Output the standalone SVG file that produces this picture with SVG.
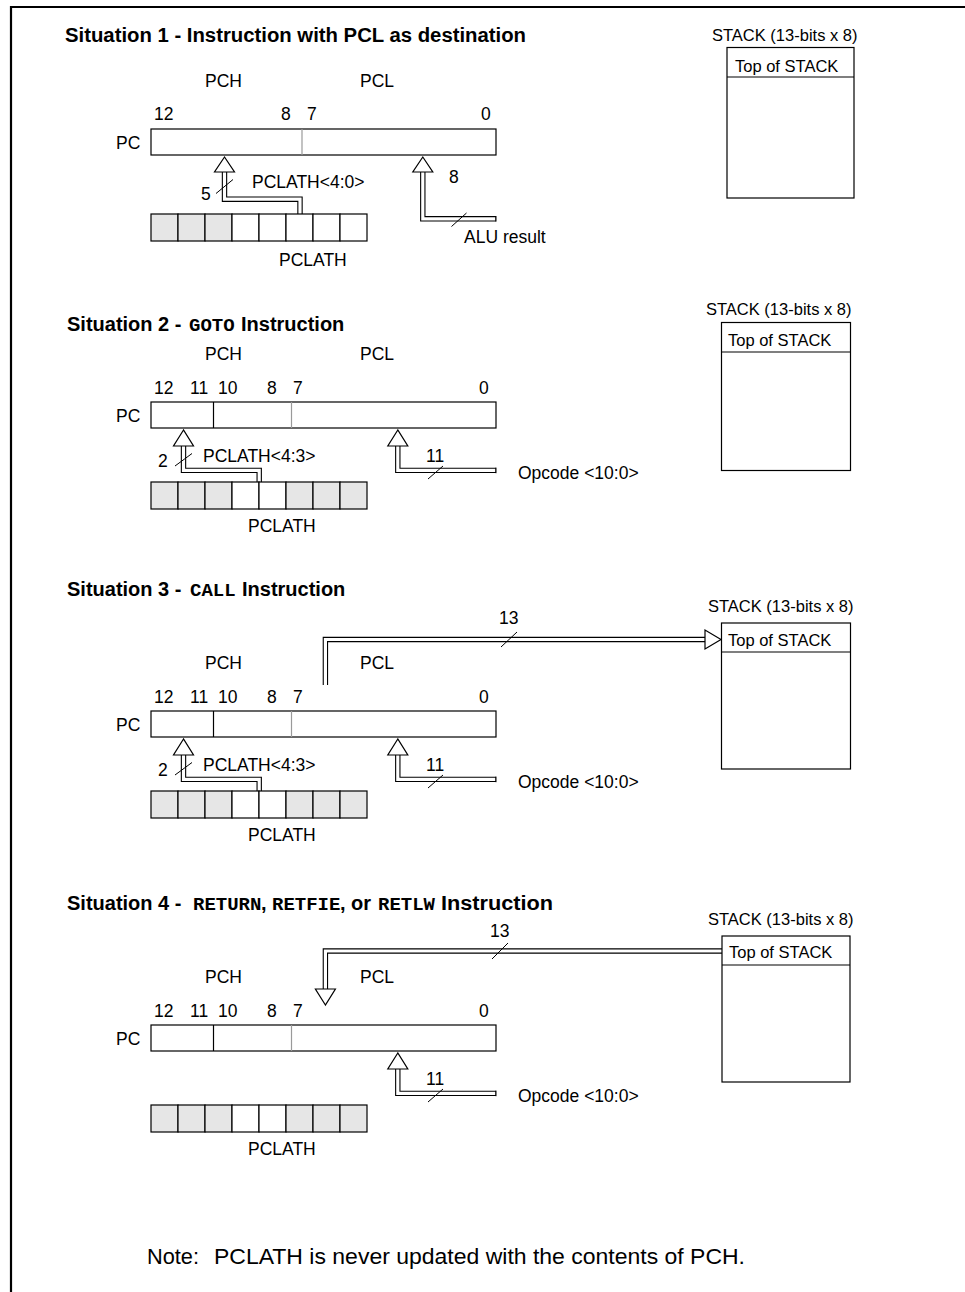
<svg xmlns="http://www.w3.org/2000/svg" width="965" height="1292" viewBox="0 0 965 1292">
<style>
text{font-family:'Liberation Sans',Arial,sans-serif;font-size:17.5px;fill:#000}
.s{font-size:16.5px}
.h{font-weight:bold;font-size:20px}
.m{font-family:'Liberation Mono','Courier New',monospace;font-weight:bold;font-size:19px}
.n{font-size:22px}
.box{fill:#fff;stroke:#000;stroke-width:1.2}
.gc{fill:#e6e6e6;stroke:#000;stroke-width:1.2}
.wc{fill:#fff;stroke:#000;stroke-width:1.2}
.gd{stroke:#9a9a9a;stroke-width:1.2}
.bd{stroke:#000;stroke-width:1.2}
.bo{fill:none;stroke:#000;stroke-width:5.4}
.bi{fill:none;stroke:#fff;stroke-width:3.2}
.tri{fill:#fff;stroke:#000;stroke-width:1.2}
.sl{stroke:#000;stroke-width:1}
.frame{fill:none;stroke:#000;stroke-width:2.2}
</style>

<path class="frame" d="M11 1292 V7 H965"/>

<!-- Connectors -->
<g id="connectors">
  <!-- Situation 1 -->
  <path class="bo" d="M224.5 172 V199.2 H300 V214"/>
  <path class="bi" d="M224.5 172 V199.2 H300 V214"/>
  <path class="bo" d="M422.8 172 V218.8 H496"/>
  <path class="bi" d="M422.8 172 V218.8 H495.4"/>
  <line class="sl" x1="496" y1="216" x2="496" y2="221.6"/>
  <polygon class="tri" points="224.5,157 214.5,172 234.5,172"/>
  <polygon class="tri" points="422.8,157 412.8,172 432.8,172"/>
  <line class="sl" x1="216" y1="193.5" x2="233" y2="179.5"/>
  <line class="sl" x1="451.5" y1="226.5" x2="466.5" y2="213"/>

  <!-- Situation 2 -->
  <path class="bo" d="M183.5 446 V470.4 H259.2 V482"/>
  <path class="bi" d="M183.5 446 V470.4 H259.2 V482"/>
  <path class="bo" d="M397.8 446 V470.4 H496"/>
  <path class="bi" d="M397.8 446 V470.4 H495.4"/>
  <line class="sl" x1="496" y1="467.6" x2="496" y2="473.2"/>
  <polygon class="tri" points="183.5,430 173.5,446 193.5,446"/>
  <polygon class="tri" points="397.8,430 387.8,446 407.8,446"/>
  <line class="sl" x1="175" y1="466" x2="192" y2="453.5"/>
  <line class="sl" x1="428" y1="479" x2="443" y2="466"/>

  <!-- Situation 3 -->
  <path class="bo" d="M325.4 685 V639.5 H706"/>
  <path class="bi" d="M325.4 685 V639.5 H706"/>
  <polygon class="tri" points="721,639.5 705,630 705,649"/>
  <line class="sl" x1="501" y1="647" x2="517" y2="632"/>
  <path class="bo" d="M183.5 755 V779.4 H259.2 V791"/>
  <path class="bi" d="M183.5 755 V779.4 H259.2 V791"/>
  <path class="bo" d="M397.8 755 V779.4 H496"/>
  <path class="bi" d="M397.8 755 V779.4 H495.4"/>
  <line class="sl" x1="496" y1="776.6" x2="496" y2="782.2"/>
  <polygon class="tri" points="183.5,739 173.5,755 193.5,755"/>
  <polygon class="tri" points="397.8,739 387.8,755 407.8,755"/>
  <line class="sl" x1="175" y1="775" x2="192" y2="762.5"/>
  <line class="sl" x1="428" y1="788" x2="443" y2="775"/>

  <!-- Situation 4 -->
  <path class="bo" d="M722 951 H325.4 V989"/>
  <path class="bi" d="M722 951 H325.4 V989"/>
  <polygon class="tri" points="325.4,1005 315.4,989 335.4,989"/>
  <line class="sl" x1="492" y1="959" x2="508" y2="943"/>
  <path class="bo" d="M397.8 1069 V1093.4 H496"/>
  <path class="bi" d="M397.8 1069 V1093.4 H495.4"/>
  <line class="sl" x1="496" y1="1090.6" x2="496" y2="1096.2"/>
  <polygon class="tri" points="397.8,1053 387.8,1069 407.8,1069"/>
  <line class="sl" x1="428" y1="1102" x2="443" y2="1089"/>
</g>

<!-- ===== Situation 1 ===== -->
<g id="sit1-title"><text class="h" x="65" y="42" textLength="461" lengthAdjust="spacingAndGlyphs">Situation 1 - Instruction with PCL as destination</text></g>
<g id="sit1-pc">
  <text x="205" y="87">PCH</text>
  <text x="360" y="87">PCL</text>
  <text x="154" y="120">12</text>
  <text x="281" y="120">8</text>
  <text x="307" y="120">7</text>
  <text x="481" y="120">0</text>
  <text x="116" y="148.5">PC</text>
  <rect class="box" x="151" y="129" width="345" height="26"/>
  <line class="gd" x1="302" y1="129" x2="302" y2="155"/>
</g>
<g id="sit1-labels">
  <text x="201" y="200">5</text>
  <text x="252" y="188">PCLATH&lt;4:0&gt;</text>
  <text x="449" y="183">8</text>
  <text x="464" y="243">ALU result</text>
</g>
<g id="sit1-pclath">
  <rect class="gc" x="151" y="214" width="27" height="27"/>
  <rect class="gc" x="178" y="214" width="27" height="27"/>
  <rect class="gc" x="205" y="214" width="27" height="27"/>
  <rect class="wc" x="232" y="214" width="27" height="27"/>
  <rect class="wc" x="259" y="214" width="27" height="27"/>
  <rect class="wc" x="286" y="214" width="27" height="27"/>
  <rect class="wc" x="313" y="214" width="27" height="27"/>
  <rect class="wc" x="340" y="214" width="27" height="27"/>
  <text x="279" y="266">PCLATH</text>
</g>
<g id="sit1-stack">
  <text class="s" x="712" y="41">STACK (13-bits x 8)</text>
  <rect class="box" x="727" y="47.5" width="127" height="150.5"/>
  <line class="bd" x1="727" y1="77" x2="854" y2="77"/>
  <text class="s" x="735" y="71.5">Top of STACK</text>
</g>

<!-- ===== Situation 2 ===== -->
<g id="sit2-title"><text class="h" x="67" y="331">Situation 2 - <tspan class="m" x="189">GOTO</tspan><tspan x="241">Instruction</tspan></text></g>
<g id="sit2-pc">
  <text x="205" y="360">PCH</text>
  <text x="360" y="360">PCL</text>
  <text x="154" y="394">12</text>
  <text x="190" y="394">11</text>
  <text x="218" y="394">10</text>
  <text x="267" y="394">8</text>
  <text x="293" y="394">7</text>
  <text x="479" y="394">0</text>
  <text x="116" y="421.5">PC</text>
  <rect class="box" x="151" y="402" width="345" height="26"/>
  <line class="bd" x1="213.5" y1="402" x2="213.5" y2="428"/>
  <line class="gd" x1="291.5" y1="402" x2="291.5" y2="428"/>
</g>
<g id="sit2-labels">
  <text x="158" y="467">2</text>
  <text x="203" y="462">PCLATH&lt;4:3&gt;</text>
  <text x="426" y="462">11</text>
  <text x="518" y="479">Opcode &lt;10:0&gt;</text>
</g>
<g id="sit2-pclath">
  <rect class="gc" x="151" y="482" width="27" height="27"/>
  <rect class="gc" x="178" y="482" width="27" height="27"/>
  <rect class="gc" x="205" y="482" width="27" height="27"/>
  <rect class="wc" x="232" y="482" width="27" height="27"/>
  <rect class="wc" x="259" y="482" width="27" height="27"/>
  <rect class="gc" x="286" y="482" width="27" height="27"/>
  <rect class="gc" x="313" y="482" width="27" height="27"/>
  <rect class="gc" x="340" y="482" width="27" height="27"/>
  <text x="248" y="532">PCLATH</text>
</g>
<g id="sit2-stack">
  <text class="s" x="706" y="315">STACK (13-bits x 8)</text>
  <rect class="box" x="721.5" y="322.5" width="129" height="148"/>
  <line class="bd" x1="721.5" y1="352" x2="850.5" y2="352"/>
  <text class="s" x="728" y="346">Top of STACK</text>
</g>

<!-- ===== Situation 3 ===== -->
<g id="sit3-title"><text class="h" x="67" y="596">Situation 3 - <tspan class="m" x="190">CALL</tspan><tspan x="242">Instruction</tspan></text></g>
<g id="sit3-labels-top"><text x="499" y="624">13</text></g>
<g id="sit3-stack">
  <text class="s" x="708" y="612">STACK (13-bits x 8)</text>
  <rect class="box" x="721.5" y="623" width="129" height="146"/>
  <line class="bd" x1="721.5" y1="652" x2="850.5" y2="652"/>
  <text class="s" x="728" y="646">Top of STACK</text>
</g>
<g id="sit3-pc">
  <text x="205" y="669">PCH</text>
  <text x="360" y="669">PCL</text>
  <text x="154" y="703">12</text>
  <text x="190" y="703">11</text>
  <text x="218" y="703">10</text>
  <text x="267" y="703">8</text>
  <text x="293" y="703">7</text>
  <text x="479" y="703">0</text>
  <text x="116" y="730.5">PC</text>
  <rect class="box" x="151" y="711" width="345" height="26"/>
  <line class="bd" x1="213.5" y1="711" x2="213.5" y2="737"/>
  <line class="gd" x1="291.5" y1="711" x2="291.5" y2="737"/>
</g>
<g id="sit3-labels">
  <text x="158" y="776">2</text>
  <text x="203" y="771">PCLATH&lt;4:3&gt;</text>
  <text x="426" y="771">11</text>
  <text x="518" y="788">Opcode &lt;10:0&gt;</text>
</g>
<g id="sit3-pclath">
  <rect class="gc" x="151" y="791" width="27" height="27"/>
  <rect class="gc" x="178" y="791" width="27" height="27"/>
  <rect class="gc" x="205" y="791" width="27" height="27"/>
  <rect class="wc" x="232" y="791" width="27" height="27"/>
  <rect class="wc" x="259" y="791" width="27" height="27"/>
  <rect class="gc" x="286" y="791" width="27" height="27"/>
  <rect class="gc" x="313" y="791" width="27" height="27"/>
  <rect class="gc" x="340" y="791" width="27" height="27"/>
  <text x="248" y="841">PCLATH</text>
</g>

<!-- ===== Situation 4 ===== -->
<g id="sit4-title"><text class="h" x="67" y="910">Situation 4 - <tspan class="m" x="193">RETURN</tspan><tspan x="261">, </tspan><tspan class="m" x="272">RETFIE</tspan><tspan x="340">, or </tspan><tspan class="m" x="378">RETLW</tspan><tspan x="441" textLength="112" lengthAdjust="spacingAndGlyphs">Instruction</tspan></text></g>
<g id="sit4-labels-top"><text x="490" y="937">13</text></g>
<g id="sit4-stack">
  <text class="s" x="708" y="925">STACK (13-bits x 8)</text>
  <rect class="box" x="722" y="936" width="128" height="146"/>
  <line class="bd" x1="722" y1="965" x2="850" y2="965"/>
  <text class="s" x="729" y="958">Top of STACK</text>
</g>
<g id="sit4-pc">
  <text x="205" y="983">PCH</text>
  <text x="360" y="983">PCL</text>
  <text x="154" y="1017">12</text>
  <text x="190" y="1017">11</text>
  <text x="218" y="1017">10</text>
  <text x="267" y="1017">8</text>
  <text x="293" y="1017">7</text>
  <text x="479" y="1017">0</text>
  <text x="116" y="1044.5">PC</text>
  <rect class="box" x="151" y="1025" width="345" height="26"/>
  <line class="bd" x1="213.5" y1="1025" x2="213.5" y2="1051"/>
  <line class="gd" x1="291.5" y1="1025" x2="291.5" y2="1051"/>
</g>
<g id="sit4-labels">
  <text x="426" y="1085">11</text>
  <text x="518" y="1102">Opcode &lt;10:0&gt;</text>
</g>
<g id="sit4-pclath">
  <rect class="gc" x="151" y="1105" width="27" height="27"/>
  <rect class="gc" x="178" y="1105" width="27" height="27"/>
  <rect class="gc" x="205" y="1105" width="27" height="27"/>
  <rect class="wc" x="232" y="1105" width="27" height="27"/>
  <rect class="wc" x="259" y="1105" width="27" height="27"/>
  <rect class="gc" x="286" y="1105" width="27" height="27"/>
  <rect class="gc" x="313" y="1105" width="27" height="27"/>
  <rect class="gc" x="340" y="1105" width="27" height="27"/>
  <text x="248" y="1155">PCLATH</text>
</g>

<g id="note">
  <text class="n" x="147" y="1264" textLength="52" lengthAdjust="spacingAndGlyphs">Note:</text>
  <text class="n" x="214" y="1264" textLength="531" lengthAdjust="spacingAndGlyphs">PCLATH is never updated with the contents of PCH.</text>
</g>
</svg>
